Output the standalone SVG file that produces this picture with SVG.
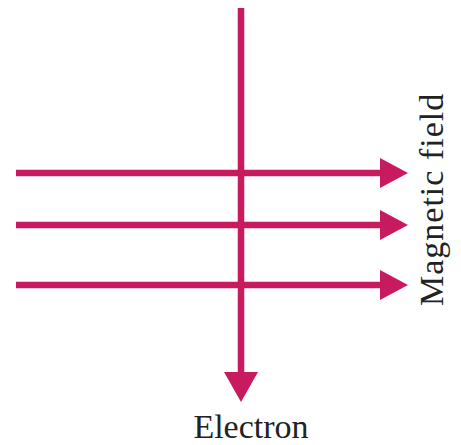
<svg xmlns="http://www.w3.org/2000/svg" width="461" height="445" viewBox="0 0 461 445">
<style>
.ln{stroke:#C81A5E;stroke-width:6.5;fill:none}
.ah{fill:#C81A5E}
.lbl{font-family:"Liberation Serif","Times New Roman",serif;font-size:34px;fill:#222}
</style>
<rect width="461" height="445" fill="#fff"/>
<g id="connectors">
<g id="field1"><line class="ln" x1="16" y1="173" x2="382" y2="173"/><polygon class="ah" points="380,158 408,173 380,188"/></g>
<g id="field2"><line class="ln" x1="16" y1="225" x2="382" y2="225"/><polygon class="ah" points="380,210 408,225 380,240"/></g>
<g id="field3"><line class="ln" x1="16" y1="285" x2="382" y2="285"/><polygon class="ah" points="380,270 408,285 380,300"/></g>
<g id="electron-path"><line class="ln" x1="241" y1="8" x2="241" y2="374"/><polygon class="ah" points="224,372 258,372 241,402"/></g>
</g>
<g id="label-field"><text class="lbl" transform="translate(443,306) rotate(-90)" letter-spacing="1">Magnetic field</text></g>
<g id="label-electron"><text class="lbl" x="251" y="438" text-anchor="middle">Electron</text></g>
</svg>
